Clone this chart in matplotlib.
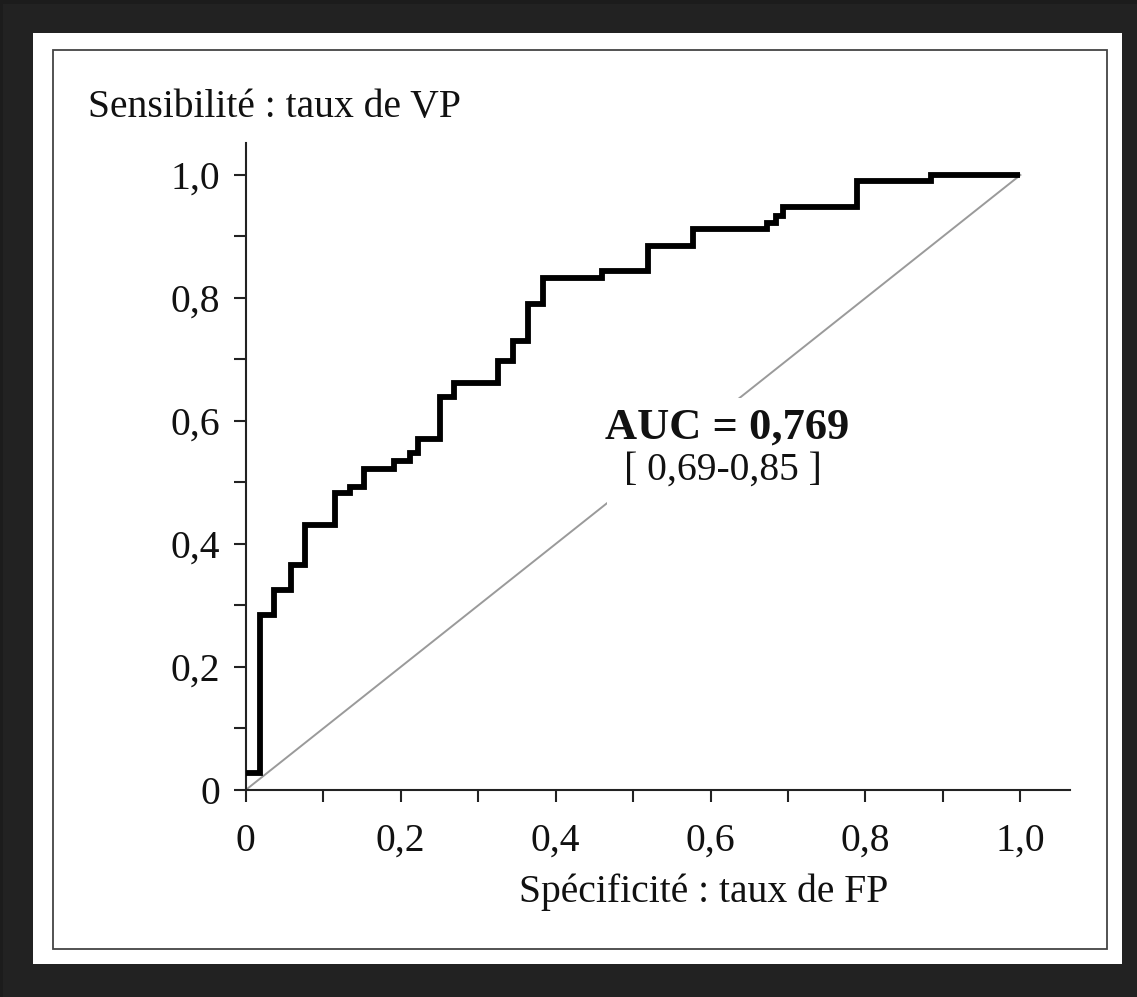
import matplotlib
matplotlib.use("Agg")
import matplotlib.pyplot as plt
from matplotlib.patches import Rectangle
from matplotlib.ticker import MultipleLocator, FixedLocator

# ROC curve corners (top-left of each horizontal run)
fpr = [0.0, 0.018, 0.037, 0.058, 0.077, 0.115, 0.135, 0.153, 0.191, 0.212,
       0.222, 0.251, 0.269, 0.326, 0.345, 0.364, 0.384, 0.460, 0.519, 0.578,
       0.673, 0.685, 0.693, 0.789, 0.884, 1.0]
tpr = [0.028, 0.285, 0.325, 0.366, 0.431, 0.483, 0.493, 0.522, 0.535, 0.548,
       0.571, 0.639, 0.662, 0.698, 0.730, 0.790, 0.833, 0.844, 0.885, 0.912,
       0.922, 0.933, 0.948, 0.990, 1.0, 1.0]

tick_vals = [0, 0.2, 0.4, 0.6, 0.8, 1.0]
tick_labels = ["0", "0,2", "0,4", "0,6", "0,8", "1,0"]
auc_text = "AUC = 0,769"
ci_text = "[ 0,69-0,85 ]"

W, H = 1137, 997
FONT = "Liberation Serif"
FS = 28.5
INK = "#111111"

fig = plt.figure(figsize=(W / 100, H / 100), dpi=100, facecolor="#1c1c1c")

def px_rect(x0, y0, x1, y1, **kw):
    # rectangle given in pixel coords measured from top-left
    r = Rectangle((x0 / W, 1 - y1 / H), (x1 - x0) / W, (y1 - y0) / H,
                  transform=fig.transFigure, **kw)
    fig.add_artist(r)

px_rect(3, 4, W, H, facecolor="#222222", edgecolor="none", zorder=-3)
px_rect(33, 33, 1122, 964, facecolor="white", edgecolor="none", zorder=-2)
px_rect(53, 50, 1107, 949, facecolor="none", edgecolor="#444444", lw=1.3, zorder=-1)

ax = fig.add_axes([245.7 / W, 1 - 790 / H, (1070 - 245.7) / W, (790 - 143) / H])
ax.set_facecolor("none")
ax.set_xlim(0, 1.064)
ax.set_ylim(0, 1.052)

for s in ["top", "right"]:
    ax.spines[s].set_visible(False)
for s in ["left", "bottom"]:
    ax.spines[s].set_linewidth(1.5)
    ax.spines[s].set_color("#222222")

ax.xaxis.set_major_locator(FixedLocator(tick_vals))
ax.yaxis.set_major_locator(FixedLocator(tick_vals))
ax.xaxis.set_minor_locator(MultipleLocator(0.1))
ax.yaxis.set_minor_locator(MultipleLocator(0.1))
ax.set_xticklabels(tick_labels, family=FONT, fontsize=FS, color=INK)
ax.set_yticklabels(tick_labels, family=FONT, fontsize=FS, color=INK)
ax.tick_params(axis="both", which="both", direction="out", length=8.6,
               width=1.5, color="#222222")
ax.tick_params(axis="x", which="major", pad=15)
ax.tick_params(axis="y", which="major", pad=10)

# diagonal reference
ax.plot([0, 1], [0, 1], color="#9a9a9a", lw=1.4, zorder=2)

# white patch behind the AUC annotation (breaks the diagonal)
ax.add_patch(Rectangle((0.466, 0.462), 0.42, 0.175, facecolor="white",
                       edgecolor="none", zorder=3))

# ROC step curve
ax.plot(fpr, tpr, drawstyle="steps-post", color="black", lw=4.2,
        solid_joinstyle="miter", solid_capstyle="butt", clip_on=False, zorder=4)

ax.text(0.621, 0.572, auc_text, family=FONT, fontsize=FS + 3.5, weight="bold",
        color=INK, ha="center", va="baseline", zorder=5)
ax.text(0.616, 0.504, ci_text, family=FONT, fontsize=FS, color=INK,
        ha="center", va="baseline", zorder=5)

fig.text(88 / W, 1 - 117 / H, "Sensibilité : taux de VP", family=FONT,
         fontsize=FS, color=INK, ha="left", va="baseline")
fig.text(704 / W, 1 - 902 / H, "Spécificité : taux de FP", family=FONT,
         fontsize=FS, color=INK, ha="center", va="baseline")

fig.savefig("out.png", dpi=100, facecolor=fig.get_facecolor())
